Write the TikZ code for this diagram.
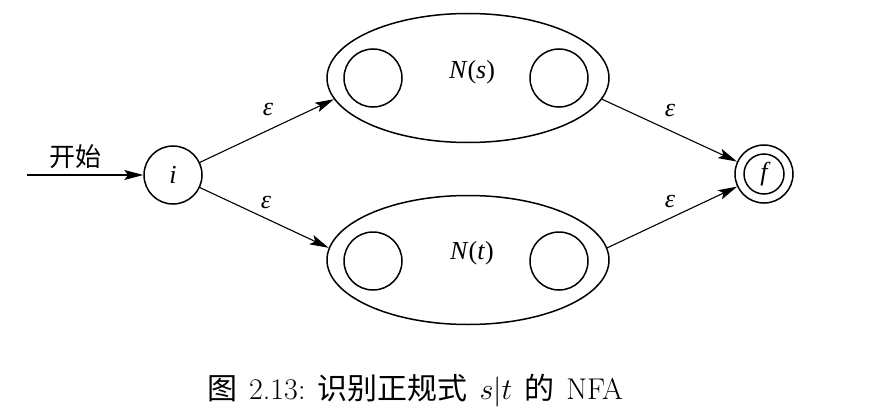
\RequirePackage{fix-cm}
\documentclass[tikz,border=0pt]{standalone}
\usepackage{fontspec}
\setmainfont{Latin Modern Roman}
\newfontfamily\tms{Liberation Serif}
\newfontfamily\cjk{Noto Sans CJK SC}
\usetikzlibrary{shapes.geometric,arrows.meta}
\tikzset{
  state/.style={circle,draw,line width=1.5pt,minimum size=58pt,inner sep=0pt,font=\fontsize{26}{30}\selectfont\tms\itshape},
  inner/.style={circle,draw,line width=1.5pt,minimum size=58pt,inner sep=0pt},
  fin/.style={circle,draw,line width=1.5pt,minimum size=40pt,inner sep=0pt},
  net/.style={ellipse,draw,line width=1.5pt,minimum width=282pt,minimum height=129pt,inner sep=0pt},
  netlabel/.style={font=\fontsize{26}{30}\selectfont\tms},
  eps/.style={font=\fontsize{26}{30}\selectfont\tms\itshape},
  edge/.style={line width=1.1pt,-{Stealth[length=19pt,width=10pt,inset=4pt]}}
}
\begin{document}
\begin{tikzpicture}[x=1pt,y=-1pt]
\useasboundingbox (0,0) rectangle (889,420);
% start state
\node[state] (i) at (173,175) {i};
\coordinate (start) at (27,175);
\node[font=\fontsize{26}{30}\selectfont\cjk] (startlbl) at (75,157) {开始};
% final state
\node[state] (f) at (764,174) {f};
\node[fin] (fi) at (764,174) {};
% N(s)
\node[net] (S) at (468,78) {};
\node[inner] (s1) at (373,78) {};
\node[inner] (s2) at (559,78) {};
\node[netlabel] (Sl) at (472,72) {\textit{N}(\textit{s})};
% N(t)
\node[net] (T) at (468,260) {};
\node[inner] (t1) at (373,261) {};
\node[inner] (t2) at (559,261) {};
\node[netlabel] (Tl) at (472,253) {\textit{N}(\textit{t})};
% edges
\draw[edge] (start) -- (i);
\draw[edge] (i) -- (S.189);
\draw[edge] (i) -- (T.175);
\draw[edge] (S.351) -- (f);
\draw[edge] (T.5) -- (f);
\node[eps] (e1) at (268,110) {ε};
\node[eps] (e2) at (266,203) {ε};
\node[eps] (e3) at (670,111) {ε};
\node[eps] (e4) at (670,202) {ε};
% caption
\node[font=\fontsize{30}{34}\selectfont] (cap) at (415,391) {{\cjk 图}\hspace{0.4em}2.13:\hspace{0.4em}{\cjk 识别正规式}\hspace{0.4em}$s|t$\hspace{0.4em}{\cjk 的}\hspace{0.4em}NFA};
\end{tikzpicture}
\end{document}
